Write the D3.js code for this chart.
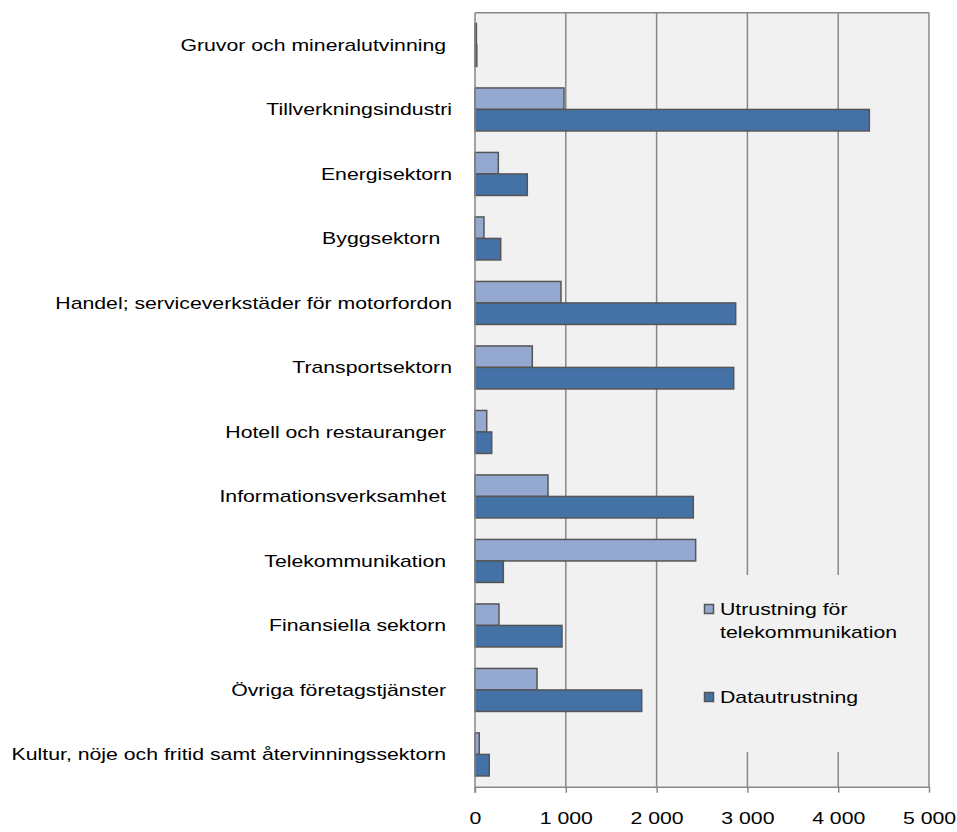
<!DOCTYPE html>
<html>
<head>
<meta charset="utf-8">
<script src="https://cdn.jsdelivr.net/npm/d3@7"></script>
<style>
  body { margin: 0; background: #fff; }
  svg text { font-family: "Liberation Sans", Arial, sans-serif; fill: #000; }
</style>
</head>
<body>
<svg id="chart" width="957" height="832"></svg>
<script>
// kategorier, uppifrån och ner
var categories = [
  "Gruvor och mineralutvinning ",
  "Tillverkningsindustri",
  "Energisektorn",
  "Byggsektorn  ",
  "Handel; serviceverkstäder för motorfordon",
  "Transportsektorn",
  "Hotell och restauranger ",
  "Informationsverksamhet ",
  "Telekommunikation ",
  "Finansiella sektorn ",
  "Övriga företagstjänster ",
  "Kultur, nöje och fritid samt återvinningssektorn "
];
var seriesNames = ["Utrustning för telekommunikation", "Datautrustning"];
var telekomValues = [15, 980, 257, 99, 947, 631, 129, 804, 2430, 264, 683, 47];
var dataValues = [20, 4343, 576, 283, 2871, 2849, 184, 2404, 312, 958, 1836, 157];
var xTicks = [0, 1000, 2000, 3000, 4000, 5000];
var xTickLabels = ["0", "1 000", "2 000", "3 000", "4 000", "5 000"];

var colors = ["#94a8d0", "#4472a6"];
var stretch = 1.25; // texten i originalet är utdragen i sidled

var svg = d3.select("#chart");
var plot = {left: 475, top: 12.7, right: 929, bottom: 786.7};

var x = d3.scaleLinear().domain([0, 5000]).range([plot.left, plot.right]);
var y = d3.scaleBand().domain(categories).range([plot.top, plot.bottom])
  .paddingInner(1/3).paddingOuter(1/6);
var ySub = d3.scaleBand().domain([0, 1]).range([0, y.bandwidth()]);

// plottyta
svg.append("rect")
  .attr("x", plot.left).attr("y", plot.top)
  .attr("width", plot.right - plot.left).attr("height", plot.bottom - plot.top)
  .attr("fill", "#f1f1f1");

// rutnät
svg.append("g")
  .selectAll("line")
  .data(xTicks.slice(1))
  .enter()
  .append("line")
  .attr("x1", function(d){ return x(d); })
  .attr("x2", function(d){ return x(d); })
  .attr("y1", plot.top).attr("y2", plot.bottom)
  .attr("stroke", "#878787").attr("stroke-width", 1.5);

svg.append("line")
  .attr("x1", plot.left).attr("x2", plot.right)
  .attr("y1", plot.top).attr("y2", plot.top)
  .attr("stroke", "#878787").attr("stroke-width", 1.5);

// staplar
var rows = categories.map(function(c, i){
  return {cat: c, vals: [telekomValues[i], dataValues[i]]};
});

svg.append("g")
  .selectAll("g")
  .data(rows)
  .enter()
  .append("g")
  .attr("transform", function(d){ return "translate(0," + y(d.cat) + ")"; })
  .selectAll("rect")
  .data(function(d){ return d.vals; })
  .enter()
  .append("rect")
  .attr("x", x(0))
  .attr("y", function(d, i){ return ySub(i); })
  .attr("width", function(d){ return x(d) - x(0); })
  .attr("height", ySub.bandwidth())
  .attr("fill", function(d, i){ return colors[i]; })
  .attr("stroke", "#555")
  .attr("stroke-width", 1.5);

// x-axel
var xAxis = svg.append("g")
  .attr("transform", "translate(0," + plot.bottom + ")")
  .call(d3.axisBottom(x).tickValues(xTicks)
    .tickFormat(function(d, i){ return xTickLabels[i]; })
    .tickSize(6).tickPadding(19).tickSizeOuter(0));
xAxis.select(".domain").attr("stroke", "#878787").attr("stroke-width", 1.5);
xAxis.selectAll(".tick line").attr("stroke", "#878787").attr("stroke-width", 1.5);
xAxis.selectAll("text").attr("font-size", 17)
  .attr("transform", "scale(" + stretch + ",1)")
  .style("font-family", "'Liberation Sans', Arial, sans-serif").attr("fill", "#000");

// y-axel
svg.append("line")
  .attr("x1", plot.left).attr("x2", plot.left)
  .attr("y1", plot.top).attr("y2", plot.bottom + 6)
  .attr("stroke", "#878787").attr("stroke-width", 1.5);

svg.append("g")
  .selectAll("text")
  .data(categories)
  .enter()
  .append("text")
  .attr("transform", function(d){
    return "translate(452," + (y(d) + y.bandwidth() / 2) + ") scale(" + stretch + ",1)";
  })
  .attr("dy", "0.35em")
  .attr("text-anchor", "end")
  .attr("font-size", 17)
  .style("white-space", "pre")
  .text(function(d){ return d; });

// förklaring
var legend = svg.append("g");
legend.append("rect")
  .attr("x", 698).attr("y", 575).attr("width", 222).attr("height", 177)
  .attr("fill", "#f1f1f1");

var legendItems = [
  {lines: ["Utrustning för", "telekommunikation"], y: 609},
  {lines: ["Datautrustning"], y: 697}
];
legendItems.forEach(function(item, i){
  legend.append("rect")
    .attr("x", 704.5).attr("y", item.y - 4.5).attr("width", 9).attr("height", 9)
    .attr("fill", colors[i]).attr("stroke", "#555").attr("stroke-width", 1.5);
  var t = legend.append("text")
    .attr("transform", "translate(720," + item.y + ") scale(" + stretch + ",1)")
    .attr("font-size", 17);
  item.lines.forEach(function(l, j){
    t.append("tspan").attr("x", 0).attr("dy", j == 0 ? "0.35em" : 23).text(l);
  });
});
</script>
</body>
</html>
